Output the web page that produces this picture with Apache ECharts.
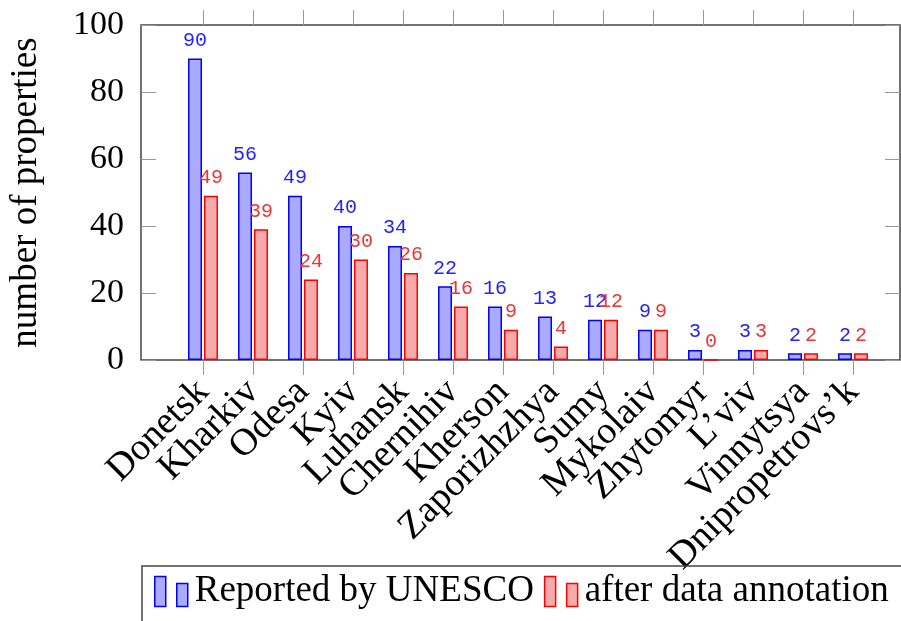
<!DOCTYPE html>
<html>
<head>
<meta charset="utf-8">
<script src="https://cdn.jsdelivr.net/npm/echarts@6/dist/echarts.min.js"></script>
<style>
html,body{margin:0;padding:0;background:#fff;}
#c{width:901px;height:621px;}
</style>
</head>
<body>
<div id="c"></div>
<script>
const categories = ['Donetsk','Kharkiv','Odesa','Kyiv','Luhansk','Chernihiv','Kherson','Zaporizhzhya','Sumy','Mykolaiv','Zhytomyr','L\u2019viv','Vinnytsya','Dnipropetrovs\u2019k'];
const reportedByUnesco = [90,56,49,40,34,22,16,13,12,9,3,3,2,2];
const afterAnnotation = [49,39,24,30,26,16,9,4,12,9,0,3,2,2];
const yTicks = [0,20,40,60,80,100];

const BLUE = '#0000ff', BLUE_FILL = '#aaaaff';
const RED = '#ff0000', RED_FILL = '#f7aaaa';
const serif = 'Liberation Serif';

const chart = echarts.init(document.getElementById('c'), null, {renderer:'canvas'});
const tickStyle = {color:'#999', width:1};

chart.setOption({
  animation:false,
  backgroundColor:'#fff',
  grid:[
    {left:138, right:1, top:25, bottom:261, show:true, borderColor:'#444', borderWidth:1.5, backgroundColor:'transparent'},
    {left:178, right:23, top:25, bottom:261}
  ],
  xAxis:[
    {gridIndex:0, type:'value', min:0, max:1, show:false},
    {gridIndex:1, type:'category', position:'bottom', data:categories,
      axisLine:{show:false},
      axisTick:{show:true, inside:false, length:15, interval:0, alignWithLabel:true, lineStyle:tickStyle},
      axisLabel:{interval:0, rotate:45, margin:26, fontFamily:serif, fontSize:38, color:'#000'}},
    {gridIndex:1, type:'category', position:'top', data:categories,
      axisLine:{show:false},
      axisTick:{show:true, inside:false, length:15, interval:0, alignWithLabel:true, lineStyle:tickStyle},
      axisLabel:{show:false}}
  ],
  yAxis:[
    {gridIndex:0, type:'value', position:'left', min:yTicks[0], max:yTicks[yTicks.length-1], interval:20,
      name:'number of properties', nameLocation:'middle', nameGap:96, nameRotate:90,
      nameTextStyle:{fontFamily:serif, fontSize:37, color:'#000'},
      axisLine:{show:false}, splitLine:{show:false},
      axisTick:{show:true, inside:true, length:15, lineStyle:tickStyle},
      axisLabel:{margin:17, fontFamily:serif, fontSize:34, color:'#000'}},
    {gridIndex:0, type:'value', position:'right', min:0, max:100, interval:20,
      axisLine:{show:false}, splitLine:{show:false},
      axisTick:{show:true, inside:true, length:15, lineStyle:tickStyle},
      axisLabel:{show:false}},
    {gridIndex:1, type:'value', min:0, max:100, show:false}
  ],
  legend:{
    orient:'horizontal',
    left:142, top:566, width:900,
    padding:[7,30,30,12],
    borderColor:'#444', borderWidth:1.5,
    itemGap:10, itemWidth:33, itemHeight:30,
    icon:'path://M0,0H11V30H0Z M22,7H33V30H22Z',
    textStyle:{fontFamily:serif, fontSize:37, color:'#000', padding:[0,0,0,2]},
    data:[
      {name:'Reported by UNESCO', itemStyle:{color:BLUE_FILL, borderColor:BLUE, borderWidth:1.5}},
      {name:'after data annotation', itemStyle:{color:RED_FILL, borderColor:RED, borderWidth:1.5}}
    ]
  },
  series:[
    {name:'Reported by UNESCO', type:'bar', xAxisIndex:1, yAxisIndex:2, data:reportedByUnesco,
      barWidth:14, barGap:'14%',
      itemStyle:{color:BLUE_FILL, borderColor:BLUE, borderWidth:1.5},
      label:{show:true, position:'top', distance:8, fontFamily:'Liberation Mono', fontSize:20, color:'#2222ff'}},
    {name:'after data annotation', type:'bar', xAxisIndex:1, yAxisIndex:2, data:afterAnnotation,
      barWidth:14, barGap:'14%',
      itemStyle:{color:RED_FILL, borderColor:RED, borderWidth:1.5},
      label:{show:true, position:'top', distance:8, fontFamily:'Liberation Mono', fontSize:20, color:'#ee3333'}}
  ]
});
</script>
</body>
</html>
